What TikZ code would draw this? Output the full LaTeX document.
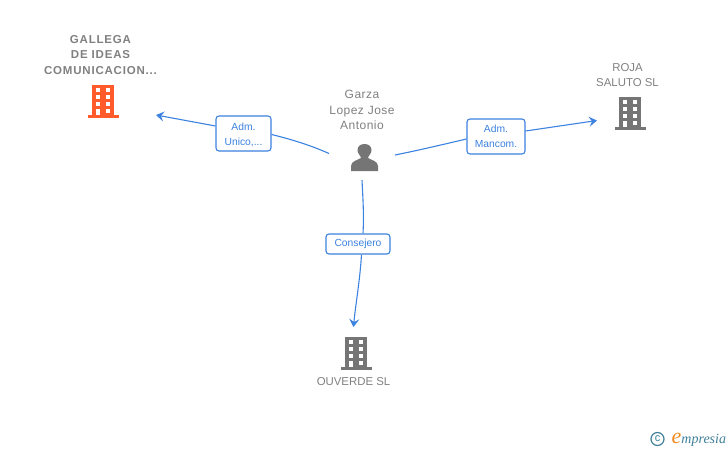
\documentclass[tikz,border=0pt]{standalone}
\usepackage{fontspec}
\setmainfont{Liberation Sans}
\newfontfamily\logofont{Liberation Serif}
\newfontfamily\trackedfont[LetterSpace=4]{Liberation Sans}
\newfontfamily\widefont[LetterSpace=7,BoldFont={Liberation Sans Bold}]{Liberation Sans}
\usepackage{xcolor}
\usepackage{tikz}
\usetikzlibrary{
  arrows.meta,
  calc
}
\definecolor{linkblue}{HTML}{3C82E0}
\definecolor{labelgrey}{HTML}{808080}
\definecolor{icongrey}{HTML}{757575}
\definecolor{iconred}{HTML}{FF5B2B}
\definecolor{logoteal}{HTML}{3E7F9A}
\definecolor{logoorange}{HTML}{F08A1D}
\tikzset{
  link/.style={
    ->,
    >={Stealth[length=8pt,width=10pt,inset=3pt]},
    line width=1.1pt,
    draw=linkblue},
  role/.style={
    draw=linkblue,
    line width=1.1pt,
    fill=white,
    rounded corners=3pt,
    text=linkblue,
    align=center,
    inner sep=0pt,
    font=\fontsize{10.3}{15}\selectfont},
  entity/.style={
    text=labelgrey,
    align=center,
    inner sep=0pt,
    font=\fontsize{11.4}{15.2}\selectfont},
  pics/tower/.style={
    code={
      \fill [#1] (-11,-16) rectangle (11,14);
      \fill [#1] (-15.5,14) rectangle (15.5,16.5);
      \foreach \y in {-13,-6,1} {
        \fill [white] (-7.5,\y) rectangle (-3,\y+4);
        \fill [white] (2.5,\y) rectangle (7,\y+4);
      }
      \fill [white] (-7.5,7.5) rectangle (-3,14);
      \fill [white] (2.5,7.5) rectangle (7,11.5);
    }}
}

\begin{document}
\begin{tikzpicture}[x=1pt,y=-1pt]
    \useasboundingbox (0,0) rectangle (728,450);
    \pic at (103,101) {tower=iconred};
    \pic at (630,113) {tower=icongrey};
    \pic at (356,353) {tower=icongrey};
    \fill [icongrey]
      (351,171) -- (351,166) .. controls (351,161) and (358,160) .. (361,158)
      .. controls (361,156) and (357,153) .. (357.5,150)
      .. controls (357.5,142) and (371.5,142) .. (371.5,150)
      .. controls (372,153) and (368,156) .. (368,158)
      .. controls (371,160) and (378,161) .. (378,166) -- (378,171) -- cycle;
    \node [entity,font=\widefont\bfseries\fontsize{11.5}{15.2}\selectfont] (gallega) at (100.5,55) {GALLEGA\\DE IDEAS\\COMUNICACION...};
    \node [entity,font=\trackedfont\fontsize{12}{15.2}\selectfont] (garza) at (362,110) {Garza\\Lopez Jose\\Antonio};
    \node [entity] (roja) at (627.5,75) {ROJA\\SALUTO SL};
    \node [entity] (ouverde) at (353.5,382) {OUVERDE SL};
    \node [role,minimum width=55pt,minimum height=35pt,text depth=0pt] (unico) at (243.5,133.5) {\raisebox{-1.5pt}{Adm.}\\\raisebox{-1.5pt}{Unico,...}};
    \node [role,minimum width=58pt,minimum height=35pt] (mancom) at (496,136.5) {\raisebox{-2pt}{Adm.}\\\raisebox{-2pt}{Mancom.}};
    \node [role,minimum width=64pt,minimum height=20pt] (consejero) at (358,244) {\raisebox{-2pt}{Consejero}};
    \coordinate (garzaW) at (329,153.5);
    \coordinate (garzaE) at (395,155);
    \coordinate (garzaS) at (362,180);
    \coordinate (gallegaE) at (156,115);
    \coordinate (rojaW) at (597,120.5);
    \coordinate (ouverdeN) at (353.5,327);
    \draw [link,-]
      (garzaW) .. controls (310,145) and (290,139) .. (unico.east |- 0,134.5);
    \draw [link,-]
      (garzaE) .. controls (420,150) and (445,144) .. (mancom.west |- 0,139);
    \draw [link,-]
      (garzaS) .. controls (363,200) and (364,215) .. (consejero.north -| 363,0);
    \draw [link]
      (unico.west |- 0,126) -- (gallegaE);
    \draw [link]
      (mancom.east |- 0,131) -- (rojaW);
    \draw [link]
      (consejero.south -| 361.5,0) .. controls (360,280) and (355.5,305) .. (ouverdeN);
    \node [circle,draw=logoteal,line width=1.2pt,text=logoteal,inner sep=0pt,minimum size=13pt,font=\fontsize{11}{11}\selectfont] (copyr) at (657.5,439) {c};
    \node [anchor=base west,inner sep=0pt,text=logoteal,font=\logofont\itshape\fontsize{14}{14}\selectfont] (empresia) at (671.5,443.5) {\textcolor{logoorange}{\fontsize{22}{22}\selectfont e}mpresia};
  \end{tikzpicture}
\end{document}
